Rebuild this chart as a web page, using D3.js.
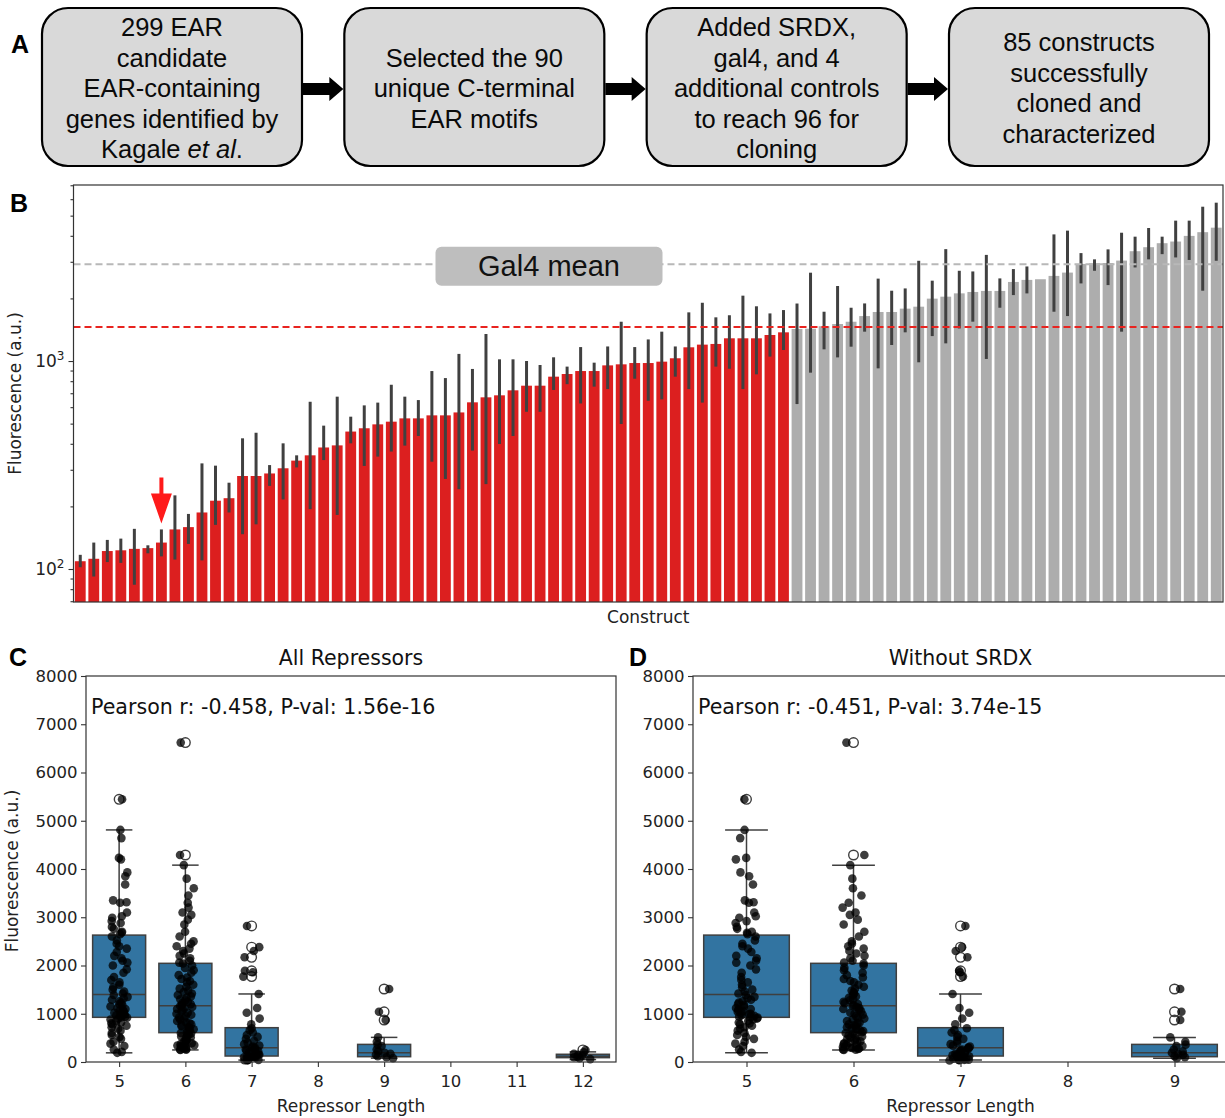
<!DOCTYPE html>
<html>
<head>
<meta charset="utf-8">
<script src="https://cdn.jsdelivr.net/npm/d3@7"></script>
<style>
  body { margin: 0; background: #fff; }
  svg { display: block; }
</style>
</head>
<body>
<svg id="fig" width="1225" height="1118"></svg>
<script>
// ---------------- Data ----------------

// Panel A: cloning workflow (text between underscores is italic)
const workflowSteps = [
  ["299 EAR", "candidate", "EAR-containing", "genes identified by", "Kagale _et al_."],
  ["Selected the 90", "unique C-terminal", "EAR motifs"],
  ["Added SRDX,", "gal4, and 4", "additional controls", "to reach 96 for", "cloning"],
  ["85 constructs", "successfully", "cloned and", "characterized"]
];

// Panel B: mean fluorescence per construct (sorted) with error-bar limits
const barMeans = [
  109, 112, 122, 123, 125, 126, 134, 155, 159, 187,
  213, 219, 280, 280, 288, 305, 332, 352, 384, 393,
  458, 475, 496, 511, 530, 530, 548, 548, 566, 633,
  669, 684, 723, 761, 761, 841, 866, 895, 895, 953,
  964, 978, 978, 993, 1031, 1164, 1199, 1208, 1286, 1286,
  1286, 1334, 1374, 1426, 1430, 1470, 1506, 1545, 1645, 1721,
  1721, 1786, 1825, 1995, 2039, 2115, 2148, 2173, 2173, 2400,
  2455, 2473, 2566, 2662, 2930, 2954, 2960, 3040, 3373, 3526,
  3686, 3754, 3996, 4164, 4377
];
const barErrLow = [
  102, 92, 108, 107, 84, 119, 115, 111, 132, 110,
  163, 187, 147, 164, 251, 216, 308, 194, 334, 182,
  402, 313, 347, 367, 392, 436, 328, 271, 242, 371,
  256, 399, 436, 570, 570, 726, 774, 625, 753, 733,
  498, 822, 644, 654, 841, 733, 631, 940, 918, 733,
  863, 1050, 1130, 621, 879, 1138, 1041, 1172, 1384, 922,
  1194, 1374, 986, 1318, 1216, 1434, 1546, 1023, 1804, 2075,
  2114, 2473, 1726, 1645, 2361, 2716, 2318, 1384, 2818, 3082,
  3265, 3148, 3062, 2178, 3034
];
const barErrHigh = [
  117, 134, 138, 140, 156, 130, 155, 226, 184, 322,
  314, 260, 425, 452, 316, 402, 352, 637, 489, 674,
  540, 612, 631, 769, 674, 649, 895, 828, 1082, 916,
  1349, 1019, 1019, 1000, 957, 1042, 940, 1167, 982, 1175,
  1545, 1167, 1270, 1384, 1175, 1714, 1906, 1622, 1660, 2062,
  1833, 1694, 1758, 1890, 2659, 1726, 2294, 1804, 1892, 2490,
  2178, 2234, 3034, 2434, 3451, 2716, 2696, 3238, 2496, 2767,
  2849, 2473, 4063, 4236, 3303, 3082, 3442, 4139, 3962, 4360,
  3962, 4731, 4731, 5520, 5772
];
const nRepressing = 53;      // constructs below the repression threshold (drawn red)
const gal4Mean = 2918;       // Gal4 control mean; threshold is half of it
const highlightedConstruct = 6;
const majorTicksB = [100, 1000];

// Panels C / D: fluorescence by repressor length
const lengthsAll = [5, 6, 7, 8, 9, 10, 11, 12];
const lengthsNoSRDX = [5, 6, 7, 8, 9];
const boxLengths = [5, 6, 7, 9, 12];
const boxQ1 = [926, 608, 124, 110, 90];
const boxMedian = [1400, 1167, 297, 190, 120];
const boxQ3 = [2630, 2045, 711, 365, 160];
const whiskerLow = [190, 250, 40, 80, 50];
const whiskerHigh = [4810, 4080, 1410, 510, 210];
const fliers = [[5445], [4290, 6620], [2820, 2380, 2170, 1890, 1770], [1513, 1040, 870], [250]];

const pointsLen5 = [
  5445, 4810, 4640, 4230, 4200, 3930, 3850, 3680, 3350, 3300, 3310, 3100, 3020, 2990, 2920, 2880, 2800, 2760, 2700, 2680, 2650,
  2600, 2520, 2450, 2400, 2350, 2280, 2200, 2150, 2100, 2060, 2000, 1920, 1850, 1760, 1700, 1650, 1600, 1550, 1500, 1460, 1420,
  1390, 1350, 1320, 1290, 1260, 1230, 1200, 1180, 1150, 1120, 1100, 1080, 1060, 1040, 1020, 1000, 990, 970, 955, 940, 930,
  920, 900, 880, 850, 820, 800, 780, 750, 720, 690, 650, 600, 560, 520, 480, 420, 380, 330, 260, 210, 190
];
const pointsLen6 = [
  6620, 4290, 4080, 3800, 3600, 3450, 3300, 3200, 3100, 3050, 2950, 2850, 2700, 2600, 2500, 2450, 2400, 2350, 2300, 2250, 2200, 2150, 2100, 2060,
  2040, 2000, 1950, 1900, 1850, 1800, 1750, 1720, 1680, 1650, 1600, 1560, 1520, 1480, 1450, 1420, 1390, 1360, 1330, 1300, 1280, 1250, 1220, 1200, 1180,
  1160, 1140, 1120, 1100, 1080, 1050, 1020, 1000, 980, 950, 920, 900, 880, 850, 820, 800, 780, 760, 740, 720, 700, 680, 660, 640, 620,
  600, 590, 570, 550, 530, 510, 490, 470, 450, 430, 420, 400, 390, 370, 350, 340, 330, 310, 300, 290, 280, 270, 260, 255, 250
];
const pointsLen7 = [
  2820, 2380, 2300, 2170, 1890, 1860, 1770, 1410, 1120, 1020, 900, 780,
  700, 660, 610, 560, 520, 480, 440, 400, 370, 340, 320, 300,
  295, 280, 260, 240, 220, 200, 185, 170, 160, 150, 140, 130,
  120, 110, 100, 90, 80, 70, 60, 50, 45, 40, 35, 30
];
const pointsLen9 = [1513, 1040, 870, 510, 420, 360, 330, 260, 220, 190, 170, 150, 120, 100, 80];
const pointsLen12 = [250, 200, 170, 150, 130, 110, 100, 80, 60];
const pointsByLength = { 5: pointsLen5, 6: pointsLen6, 7: pointsLen7, 9: pointsLen9, 12: pointsLen12 };

const pearsonAll = "Pearson r: -0.458, P-val: 1.56e-16";
const pearsonNoSRDX = "Pearson r: -0.451, P-val: 3.74e-15";
const yTicksCD = d3.range(0, 8001, 1000);

// ---------------- Drawing ----------------
const SANS = "'DejaVu Sans', Verdana, sans-serif";
const ARIAL = "'Liberation Sans', Arial, Helvetica, sans-serif";
const svg = d3.select("#fig");
svg.append("rect").attr("width", 1225).attr("height", 1118).attr("fill", "#fff");

function panelLabel(txt, x, y) {
  svg.append("text").attr("x", x).attr("y", y).text(txt)
    .attr("font-family", ARIAL).attr("font-weight", "bold").attr("font-size", 25).attr("fill", "#000");
}

// ---- Panel A ----
const stepX = d3.scaleBand().domain(d3.range(workflowSteps.length)).range([42, 1209]).paddingInner(0.14);
const gA = svg.append("g");
const boxTop = 8, boxH = 158, lineH = 30.5, boxCy = 88;
workflowSteps.forEach((lines, i) => {
  const x0 = stepX(i), w = stepX.bandwidth();
  gA.append("rect").attr("x", x0).attr("y", boxTop).attr("width", w).attr("height", boxH)
    .attr("rx", 26).attr("fill", "#d9d9d9").attr("stroke", "#000").attr("stroke-width", 2.2);
  const t = gA.append("text").attr("font-family", ARIAL).attr("font-size", 25.5)
    .attr("text-anchor", "middle").attr("fill", "#0a0a0a");
  lines.forEach((line, j) => {
    const yy = boxCy + (j - (lines.length - 1) / 2) * lineH + 9;
    const segs = line.split("_");
    const row = t.append("tspan").attr("x", x0 + w / 2).attr("y", yy);
    segs.forEach((s, k) => {
      if (!s) return;
      const ts = row.append("tspan").text(s);
      if (k % 2 === 1) ts.attr("font-style", "italic");
    });
  });
  if (i < workflowSteps.length - 1) {
    const xa = x0 + w + 1, xb = stepX(i + 1) - 1, cy = 89, head = 14;
    gA.append("path")
      .attr("d", `M${xa},${cy - 6}L${xb - head},${cy - 6}L${xb - head},${cy - 12}L${xb},${cy}L${xb - head},${cy + 12}L${xb - head},${cy + 6}L${xa},${cy + 6}Z`)
      .attr("fill", "#000");
  }
});
panelLabel("A", 11, 53);

// ---- Panel B ----
const bL = 73.5, bR = 1223, bT = 185, bB = 602;
const gB = svg.append("g");
const xB = d3.scaleBand().domain(d3.range(barMeans.length)).range([bL, bR]).paddingInner(0.2).paddingOuter(0.1);
const yB = d3.scaleLog().domain([69.4, 7020]).range([bB, bT]);

gB.selectAll("rect.bar").data(barMeans).join("rect").attr("class", "bar")
  .attr("x", (d, i) => xB(i)).attr("width", xB.bandwidth())
  .attr("y", d => yB(d)).attr("height", d => bB - yB(d))
  .attr("fill", (d, i) => i < nRepressing ? "#dc1f1f" : "#adadad");

gB.selectAll("line.err").data(barMeans).join("line").attr("class", "err")
  .attr("x1", (d, i) => xB(i) + xB.bandwidth() / 2).attr("x2", (d, i) => xB(i) + xB.bandwidth() / 2)
  .attr("y1", (d, i) => yB(barErrLow[i])).attr("y2", (d, i) => yB(barErrHigh[i]))
  .attr("stroke", "#404040").attr("stroke-width", 3);

// reference lines: Gal4 mean and half of it
gB.append("line").attr("x1", bL).attr("x2", bR).attr("y1", yB(gal4Mean)).attr("y2", yB(gal4Mean))
  .attr("stroke", "#b8b8b8").attr("stroke-width", 2).attr("stroke-dasharray", "7,4");
gB.append("line").attr("x1", bL).attr("x2", bR).attr("y1", yB(gal4Mean / 2)).attr("y2", yB(gal4Mean / 2))
  .attr("stroke", "#e8231f").attr("stroke-width", 2).attr("stroke-dasharray", "7,4");

// Gal4 mean tag
const tagCx = 549, tagCy = yB(gal4Mean) + 2;
gB.append("rect").attr("x", tagCx - 113.5).attr("y", tagCy - 19.5).attr("width", 227).attr("height", 39)
  .attr("rx", 6).attr("fill", "#bebebe");
gB.append("text").attr("x", tagCx).attr("y", tagCy + 10).attr("text-anchor", "middle")
  .attr("font-family", ARIAL).attr("font-size", 29).attr("fill", "#111").text("Gal4 mean");

// arrow marking a highlighted construct
{
  const ax = xB(highlightedConstruct) + xB.bandwidth() / 2;
  const tip = yB(barErrHigh[highlightedConstruct]) - 6;
  gB.append("path")
    .attr("d", `M${ax - 2},${tip - 46}L${ax + 2},${tip - 46}L${ax + 2},${tip - 30}L${ax + 10.5},${tip - 30}L${ax},${tip}L${ax - 10.5},${tip - 30}L${ax - 2},${tip - 30}Z`)
    .attr("fill", "#ff1a1a");
}

// axes frame
gB.append("rect").attr("x", bL).attr("y", bT).attr("width", bR - bL).attr("height", bB - bT)
  .attr("fill", "none").attr("stroke", "#333").attr("stroke-width", 1.2);

const minorB = [];
[10, 100, 1000].forEach(dec => d3.range(2, 10).forEach(m => {
  const v = dec * m;
  if (v >= yB.domain()[0] && v <= yB.domain()[1] && !majorTicksB.includes(v)) minorB.push(v);
}));
const axMinor = gB.append("g").attr("transform", `translate(${bL},0)`)
  .call(d3.axisLeft(yB).tickValues(minorB).tickSize(3).tickFormat(""));
const axMajor = gB.append("g").attr("transform", `translate(${bL},0)`)
  .call(d3.axisLeft(yB).tickValues(majorTicksB).tickSize(5).tickFormat(""));
[axMinor, axMajor].forEach(a => {
  a.select(".domain").remove();
  a.selectAll("line").attr("stroke", "#333").attr("stroke-width", 1.1);
});
majorTicksB.forEach(v => {
  const t = gB.append("text").attr("x", bL - 9).attr("y", yB(v) + 6).attr("text-anchor", "end")
    .attr("font-family", SANS).attr("font-size", 17).attr("fill", "#222");
  t.append("tspan").text("10");
  t.append("tspan").attr("dy", -7).attr("font-size", 12).text(String(Math.round(Math.log10(v))));
});
gB.append("text").attr("transform", `translate(21,${(bT + bB) / 2 - 0}) rotate(-90)`)
  .attr("text-anchor", "middle").attr("font-family", SANS).attr("font-size", 17).attr("fill", "#222")
  .text("Fluorescence (a.u.)");
gB.append("text").attr("x", (bL + bR) / 2).attr("y", 623).attr("text-anchor", "middle")
  .attr("font-family", SANS).attr("font-size", 17).attr("fill", "#222").text("Construct");
panelLabel("B", 10, 212);

// ---- Panels C and D ----
function jitter(k, seed) {
  // deterministic scatter in [-1, 1] used to spread overlapping points horizontally
  const s = Math.sin((k + 1) * 12.9898 + seed * 78.233) * 43758.5453;
  return (s - Math.floor(s)) * 2 - 1;
}

function boxPanel(opt) {
  const g = svg.append("g");
  const T = 676, B = 1062;
  const x = d3.scalePoint().domain(opt.lengths).range([opt.left, opt.right]).padding(0.5);
  const step = x.step();
  const y = d3.scaleLinear().domain([0, 8000]).range([B, T]);
  const boxW = 0.8 * step;

  boxLengths.forEach((len, i) => {
    if (!opt.lengths.includes(len)) return;
    const cx = x(len);
    const stroke = "#3f3f3f";
    // whiskers
    g.append("line").attr("x1", cx).attr("x2", cx).attr("y1", y(boxQ3[i])).attr("y2", y(whiskerHigh[i]))
      .attr("stroke", stroke).attr("stroke-width", 1.5);
    g.append("line").attr("x1", cx).attr("x2", cx).attr("y1", y(boxQ1[i])).attr("y2", y(whiskerLow[i]))
      .attr("stroke", stroke).attr("stroke-width", 1.5);
    [whiskerHigh[i], whiskerLow[i]].forEach(v => {
      g.append("line").attr("x1", cx - boxW / 4).attr("x2", cx + boxW / 4).attr("y1", y(v)).attr("y2", y(v))
        .attr("stroke", stroke).attr("stroke-width", 1.5);
    });
    // box and median
    g.append("rect").attr("x", cx - boxW / 2).attr("width", boxW)
      .attr("y", y(boxQ3[i])).attr("height", y(boxQ1[i]) - y(boxQ3[i]))
      .attr("fill", "#3274a1").attr("stroke", stroke).attr("stroke-width", 1.5);
    g.append("line").attr("x1", cx - boxW / 2).attr("x2", cx + boxW / 2)
      .attr("y1", y(boxMedian[i])).attr("y2", y(boxMedian[i]))
      .attr("stroke", stroke).attr("stroke-width", 1.5);
    // outliers
    fliers[i].forEach(v => {
      g.append("circle").attr("cx", cx).attr("cy", y(v)).attr("r", 4.8)
        .attr("fill", "none").attr("stroke", "#3f3f3f").attr("stroke-width", 1.4);
    });
  });

  // individual replicate points
  boxLengths.forEach((len, i) => {
    if (!opt.lengths.includes(len)) return;
    const cx = x(len);
    g.selectAll(null).data(pointsByLength[len]).join("circle")
      .attr("cx", (d, k) => cx + jitter(k, opt.seed + i * 0.37) * opt.jitter * step)
      .attr("cy", d => y(d)).attr("r", 4.3)
      .attr("fill", "#000").attr("fill-opacity", 0.76);
  });

  // frame and axes
  g.append("rect").attr("x", opt.left).attr("y", T).attr("width", opt.right - opt.left).attr("height", B - T)
    .attr("fill", "none").attr("stroke", "#333").attr("stroke-width", 1.2);
  const ay = g.append("g").attr("transform", `translate(${opt.left},0)`)
    .call(d3.axisLeft(y).tickValues(yTicksCD).tickSize(5).tickPadding(3.5).tickFormat(d3.format("d")));
  const ax = g.append("g").attr("transform", `translate(0,${B})`)
    .call(d3.axisBottom(x).tickSize(5).tickPadding(8));
  [ay, ax].forEach(a => {
    a.select(".domain").remove();
    a.selectAll("line").attr("stroke", "#333").attr("stroke-width", 1.1);
    a.selectAll("text").attr("font-family", SANS).attr("font-size", 16.5).attr("fill", "#222");
  });

  g.append("text").attr("x", (opt.left + opt.right) / 2).attr("y", 665).attr("text-anchor", "middle")
    .attr("font-family", SANS).attr("font-size", 20.5).attr("fill", "#111").text(opt.title);
  g.append("text").attr("x", (opt.left + opt.right) / 2).attr("y", 1112).attr("text-anchor", "middle")
    .attr("font-family", SANS).attr("font-size", 17).attr("fill", "#222").text("Repressor Length");
  g.append("text").attr("x", opt.left + 5).attr("y", 714)
    .attr("font-family", SANS).attr("font-size", 20.6).attr("fill", "#111").text(opt.stat);
  if (opt.ylabel) {
    g.append("text").attr("transform", `translate(18,${(T + B) / 2 + 2}) rotate(-90)`)
      .attr("text-anchor", "middle").attr("font-family", SANS).attr("font-size", 17).attr("fill", "#222")
      .text("Fluorescence (a.u.)");
  }
}

boxPanel({ lengths: lengthsAll, left: 86, right: 616, title: "All Repressors", stat: pearsonAll,
  ylabel: true, jitter: 0.135, seed: 0.11 });
boxPanel({ lengths: lengthsNoSRDX, left: 693, right: 1228, title: "Without SRDX", stat: pearsonNoSRDX,
  ylabel: false, jitter: 0.105, seed: 0.47 });
panelLabel("C", 9, 666);
panelLabel("D", 629, 666);
</script>
</body>
</html>
